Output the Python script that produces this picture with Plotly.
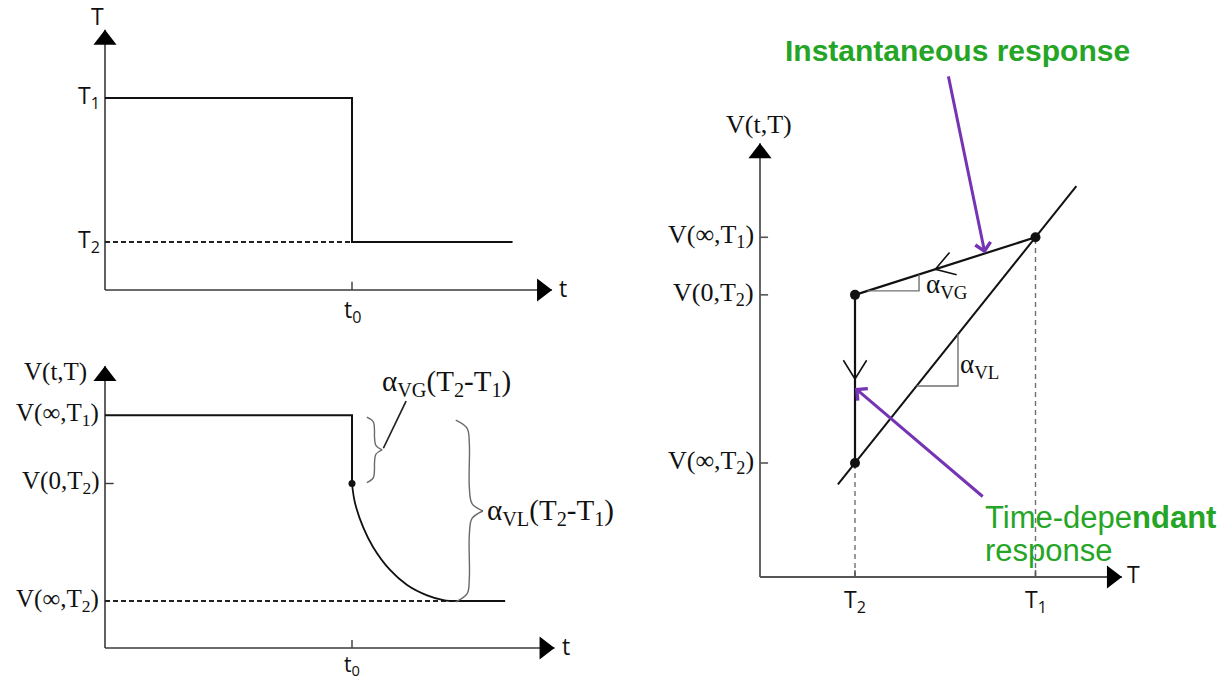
import math
import plotly.graph_objects as go

W, H = 1232, 681

# ---------------- values ----------------
# upper left: temperature step applied at t0
step_t = [0.0, 1.0, 1.0, 1.65]
step_T = [4.0, 4.0, 1.0, 1.0]
t0 = 1.0
T1_a, T2_a = 4.0, 1.0
t_axis_len_a = 1.81
T_axis_len_a = 5.42

# lower left: volume response to the step
V_inf_T1_b = 4.95
V_0_T2_b = 3.5
V_inf_T2_b = 1.0
relax_t = [1.0, 1.012, 1.045, 1.085, 1.154, 1.223, 1.304, 1.37, 1.43]
relax_V = [3.5, 3.09, 2.57, 2.15, 1.66, 1.34, 1.12, 1.02, 1.0]
flat_end_t = 1.62
t_axis_len_b = 1.82
V_axis_len_b = 6.0

# right: V(t,T) against T
T2_c, T1_c = 1.0, 2.9
V_inf_T2_c = 2.0
V_0_T2_c = 4.95
V_inf_T1_c = 5.96
eq_line_T = [0.82, 3.33]
T_axis_len_c = 3.81
V_axis_len_c = 7.61
tri_G = dict(level=5.02, T_end=1.674)   # slope triangle on the glassy branch
tri_L = dict(level=3.35, T_end=2.084)   # slope triangle on the equilibrium line
chev_G_frac = 0.555                     # chevron position from T1 towards T2
chev_V_frac = 0.5                       # chevron position down the isotherm
inst_tail = (1.98, 8.81)
inst_frac = 0.28
td_tail = (2.36, 1.39)
td_frac = 0.554

# ---------------- panel geometry (origin px, px per unit) ----------------
GEOM = {
    "a": (105, 290, 247, 48),
    "b": (105, 648, 247, 47),
    "c": (760, 577, 95, 57),
}
REF = {"a": ("x", "y"), "b": ("x2", "y2"), "c": ("x3", "y3")}

SERIF = "Liberation Serif"
SANS = "Open Sans"
ARIAL = "Liberation Sans"
INK = "#111111"
AXIS_INK = "#3a3a3a"
GREY = "#6a6a6a"
PURPLE = "#7434b4"
GREEN = "#25a525"

fig = go.Figure()
annotations = []


def to_px(k, x, y):
    ox, oy, sx, sy = GEOM[k]
    return ox + x * sx, oy - y * sy


def to_data(k, px, py):
    ox, oy, sx, sy = GEOM[k]
    return (px - ox) / sx, (oy - py) / sy


def add_line(k, xs, ys, color=INK, width=2.0, dash=None, spline=False):
    xr, yr = REF[k]
    line = dict(color=color, width=width)
    if dash:
        line["dash"] = dash
    if spline:
        line["shape"] = "spline"
        line["smoothing"] = 1.0
    fig.add_trace(go.Scatter(x=xs, y=ys, mode="lines", xaxis=xr, yaxis=yr,
                             line=line, hoverinfo="skip"))


def add_dots(k, xs, ys, size):
    xr, yr = REF[k]
    fig.add_trace(go.Scatter(x=xs, y=ys, mode="markers", xaxis=xr, yaxis=yr,
                             marker=dict(color=INK, size=size), hoverinfo="skip"))


HEAD = 20  # arrowhead marker size, px


def add_axis(k, tip, color=AXIS_INK, width=1.6):
    # axis shaft from the origin, with a solid black head at the tip
    xr, yr = REF[k]
    add_line(k, [0, tip[0]], [0, tip[1]], color=color, width=width)
    tx, ty = to_px(k, *tip)
    r = HEAD / 2
    if tip[0]:
        cx, cy = to_data(k, tx - r, ty)
        sym = "triangle-right"
    else:
        cx, cy = to_data(k, tx, ty + r)
        sym = "triangle-up"
    fig.add_trace(go.Scatter(
        x=[cx], y=[cy], mode="markers", xaxis=xr, yaxis=yr,
        marker=dict(symbol=sym, size=HEAD, color="#000000", line=dict(width=0)),
        hoverinfo="skip"))


def add_arrow(k, tip, tail, color, width=3, head=4, size=1.0):
    xr, yr = REF[k]
    annotations.append(dict(
        x=tip[0], y=tip[1], ax=tail[0], ay=tail[1],
        xref=xr, yref=yr, axref=xr, ayref=yr,
        text="", showarrow=True, arrowhead=head, arrowsize=size,
        arrowwidth=width, arrowcolor=color, standoff=0, startstandoff=0))


def add_label(k, x, y, text, size, family, color=INK, xanchor="center",
              yanchor="middle", xshift=0, yshift=0):
    xr, yr = REF[k]
    annotations.append(dict(
        x=x, y=y, xref=xr, yref=yr, text=text, showarrow=False,
        font=dict(family=family, size=size, color=color),
        xanchor=xanchor, yanchor=yanchor, xshift=xshift, yshift=yshift))


def add_chevron(k, tip, toward, length=22, half_angle=32, width=1.6):
    tx, ty = to_px(k, *tip)
    bx, by = to_px(k, *toward)
    d = math.hypot(bx - tx, by - ty)
    ux, uy = (bx - tx) / d, (by - ty) / d
    pts = []
    for sgn in (1, -1):
        a = math.radians(sgn * half_angle)
        rx = ux * math.cos(a) - uy * math.sin(a)
        ry = ux * math.sin(a) + uy * math.cos(a)
        pts.append(to_data(k, tx + rx * length, ty + ry * length))
    xs = [pts[0][0], tip[0], pts[1][0]]
    ys = [pts[0][1], tip[1], pts[1][1]]
    add_line(k, xs, ys, width=width)


def add_brace(k, x0, w, top, bottom, color=GREY, width=1.4):
    # curly brace "}" spanning top..bottom, tip pointing right
    px0, pyt = to_px(k, x0, top)
    px1, pyb = to_px(k, x0 + w, bottom)
    pw = px1 - px0
    ym = (pyt + pyb) / 2
    c = pw * 0.55
    halves = [
        [(px0, pyt), (px0 + 0.42 * pw, pyt + 0.55 * c), (px0 + 0.5 * pw, pyt + 1.6 * c),
         (px0 + 0.5 * pw, ym - 1.6 * c), (px0 + 0.6 * pw, ym - 0.5 * c), (px0 + pw, ym)],
        [(px0, pyb), (px0 + 0.42 * pw, pyb - 0.55 * c), (px0 + 0.5 * pw, pyb - 1.6 * c),
         (px0 + 0.5 * pw, ym + 1.6 * c), (px0 + 0.6 * pw, ym + 0.5 * c), (px0 + pw, ym)],
    ]
    for half in halves:
        dpts = [to_data(k, px, py) for px, py in half]
        add_line(k, [p[0] for p in dpts], [p[1] for p in dpts], color=color,
                 width=width, spline=True)


def lerp(p, q, f):
    return (p[0] + (q[0] - p[0]) * f, p[1] + (q[1] - p[1]) * f)


# ================= upper left: T(t) =================
add_axis("a", (t_axis_len_a, 0))
add_axis("a", (0, T_axis_len_a))
add_line("a", [0, t0], [T2_a, T2_a], color="#222222", width=1.8, dash="5px,3px")
add_line("a", step_t, step_T, width=2.0)
add_line("a", [t0, t0], [0, 0.17], color=AXIS_INK, width=1.4)
add_label("a", 0, T1_a, "T<sub>1</sub>", 23, SANS, xanchor="right", xshift=-3, yshift=2)
add_label("a", 0, T2_a, "T<sub>2</sub>", 23, SANS, xanchor="right", xshift=-3, yshift=2)
add_label("a", 0, T_axis_len_a, "T", 23, SANS, xanchor="right", yanchor="bottom",
          xshift=1, yshift=-4)
add_label("a", t0, 0, "t<sub>0</sub>", 23, SANS, yanchor="top", yshift=-1)
add_label("a", t_axis_len_a, 0, "t", 23, SANS, xanchor="left", xshift=5, yshift=2)

# ================= lower left: V(t,T) =================
add_axis("b", (t_axis_len_b, 0))
add_axis("b", (0, V_axis_len_b))
add_line("b", [0, relax_t[-1]], [V_inf_T2_b, V_inf_T2_b], color="#222222",
         width=1.8, dash="5px,3px")
add_line("b", [0, t0, t0], [V_inf_T1_b, V_inf_T1_b, V_0_T2_b], width=2.0)
add_line("b", relax_t, relax_V, width=1.8, spline=True)
add_line("b", [relax_t[-1], flat_end_t], [V_inf_T2_b, V_inf_T2_b], width=2.2)
add_dots("b", [t0], [V_0_T2_b], 7)
add_line("b", [0, 0.035], [V_0_T2_b, V_0_T2_b], color=AXIS_INK, width=1.4)
add_line("b", [t0, t0], [0, 0.17], color=AXIS_INK, width=1.4)

add_brace("b", 1.06, 0.062, V_inf_T1_b - 0.04, V_0_T2_b + 0.02)
add_brace("b", 1.42, 0.11, V_inf_T1_b - 0.1, V_inf_T2_b - 0.02)
add_line("b", [1.127, 1.219], [4.25, 5.255], color="#222222", width=1.7)

add_label("b", 0, V_axis_len_b, "V(t,T)", 25, SERIF, xanchor="right",
          yanchor="middle", xshift=-16, yshift=-6)
for lev, txt in zip([V_inf_T1_b, V_0_T2_b, V_inf_T2_b],
                    ["V(∞,T<sub>1</sub>)", "V(0,T<sub>2</sub>)", "V(∞,T<sub>2</sub>)"]):
    add_label("b", 0, lev, txt, 25, SERIF, xanchor="right", xshift=-4, yshift=1)
add_label("b", 1.113, 5.64, "α<sub>VG</sub>(T<sub>2</sub>-T<sub>1</sub>)", 29, SERIF,
          xanchor="left", yanchor="middle")
add_label("b", 1.538, 2.89, "α<sub>VL</sub>(T<sub>2</sub>-T<sub>1</sub>)", 29, SERIF,
          xanchor="left", yanchor="middle")
add_label("b", t0, 0, "t<sub>0</sub>", 21, SANS, yanchor="top", yshift=0)
add_label("b", t_axis_len_b, 0, "t", 23, SANS, xanchor="left", xshift=5, yshift=2)

# ================= right: V against T =================
AX_C = "#555555"
add_axis("c", (T_axis_len_c, 0), color=AX_C, width=1.8)
add_axis("c", (0, V_axis_len_c), color=AX_C, width=1.8)

add_line("c", [T2_c, T2_c], [0, V_inf_T2_c], color="#6f6f6f", width=1.4, dash="5px,4px")
add_line("c", [T1_c, T1_c], [0, V_inf_T1_c], color="#6f6f6f", width=1.4, dash="5px,4px")

slope_L = (V_inf_T1_c - V_inf_T2_c) / (T1_c - T2_c)
eq_line_V = [V_inf_T2_c + (T - T2_c) * slope_L for T in eq_line_T]
add_line("c", eq_line_T, eq_line_V, width=2.0)

p_T1 = (T1_c, V_inf_T1_c)
p_0 = (T2_c, V_0_T2_c)
p_T2 = (T2_c, V_inf_T2_c)
add_line("c", [p_T1[0], p_0[0], p_T2[0]], [p_T1[1], p_0[1], p_T2[1]], width=2.2)
add_dots("c", [p_T1[0], p_0[0], p_T2[0]], [p_T1[1], p_0[1], p_T2[1]], 10)

add_chevron("c", lerp(p_T1, p_0, chev_G_frac), p_T1)
add_chevron("c", lerp(p_0, p_T2, chev_V_frac), p_0)

# slope triangles
slope_G = (V_inf_T1_c - V_0_T2_c) / (T1_c - T2_c)
tG_start = T2_c + (tri_G["level"] - V_0_T2_c) / slope_G
tG_top = V_0_T2_c + (tri_G["T_end"] - T2_c) * slope_G
add_line("c", [tG_start, tri_G["T_end"], tri_G["T_end"]],
         [tri_G["level"], tri_G["level"], tG_top], color="#707070", width=1.4)
tL_start = T2_c + (tri_L["level"] - V_inf_T2_c) / slope_L
tL_top = V_inf_T2_c + (tri_L["T_end"] - T2_c) * slope_L
add_line("c", [tL_start, tri_L["T_end"], tri_L["T_end"]],
         [tri_L["level"], tri_L["level"], tL_top], color="#707070", width=1.4)
add_label("c", tri_G["T_end"], tri_G["level"], "α<sub>VG</sub>", 27, SERIF,
          xanchor="left", xshift=5, yshift=5)
add_label("c", tri_L["T_end"], (tri_L["level"] + tL_top) / 2, "α<sub>VL</sub>", 27, SERIF,
          xanchor="left", xshift=0, yshift=-6)

# ticks
for lev in [V_inf_T1_c, V_0_T2_c, V_inf_T2_c]:
    add_line("c", [0, 0.085], [lev, lev], color=AX_C, width=1.6)
for T in [T2_c, T1_c]:
    add_line("c", [T, T], [0, 0.12], color=AX_C, width=1.6)

add_label("c", 0, V_axis_len_c, "V(t,T)", 26, SERIF, xanchor="center",
          yanchor="bottom", xshift=-1, yshift=2)
for lev, txt in zip([V_inf_T1_c, V_0_T2_c, V_inf_T2_c],
                    ["V(∞,T<sub>1</sub>)", "V(0,T<sub>2</sub>)", "V(∞,T<sub>2</sub>)"]):
    add_label("c", 0, lev, txt, 26, SERIF, xanchor="right", xshift=-4, yshift=1)
add_label("c", T2_c, 0, "T<sub>2</sub>", 23, SANS, yanchor="top", yshift=-4)
add_label("c", T1_c, 0, "T<sub>1</sub>", 23, SANS, yanchor="top", yshift=-4)
add_label("c", T_axis_len_c, 0, "T", 23, SANS, xanchor="left", xshift=3, yshift=3)

# response call-outs
add_arrow("c", lerp(p_T1, p_0, inst_frac), inst_tail, color=PURPLE)
add_arrow("c", lerp(p_0, p_T2, td_frac), td_tail, color=PURPLE)

annotations.append(dict(
    x=957 / W, y=1 - 50 / H, xref="paper", yref="paper", showarrow=False,
    text="<b>Instantaneous response</b>", xanchor="center", yanchor="middle",
    font=dict(family=ARIAL, size=30, color=GREEN)))
add_label("c", td_tail[0], td_tail[1], "Time-depe<b>ndant</b>", 31, ARIAL, color=GREEN,
          xanchor="left", yanchor="middle", xshift=-1, yshift=-20)
add_label("c", td_tail[0], td_tail[1], "response", 31, ARIAL, color=GREEN,
          xanchor="left", yanchor="middle", xshift=-1, yshift=-53)

# ---------------- layout ----------------
layout = dict(
    width=W, height=H, margin=dict(l=0, r=0, t=0, b=0),
    paper_bgcolor="white", plot_bgcolor="rgba(0,0,0,0)",
    showlegend=False, annotations=annotations,
)
for k, (ox, oy, sx, sy) in GEOM.items():
    xr, yr = REF[k]
    xname = "xaxis" + xr[1:]
    yname = "yaxis" + yr[1:]
    layout[xname] = dict(domain=[0, 1], range=[-ox / sx, (W - ox) / sx],
                         visible=False, anchor=yr, fixedrange=True)
    layout[yname] = dict(domain=[0, 1], range=[(oy - H) / sy, oy / sy],
                         visible=False, anchor=xr, fixedrange=True)
fig.update_layout(**layout)

fig.write_html("out.html", config={"displayModeBar": False})
